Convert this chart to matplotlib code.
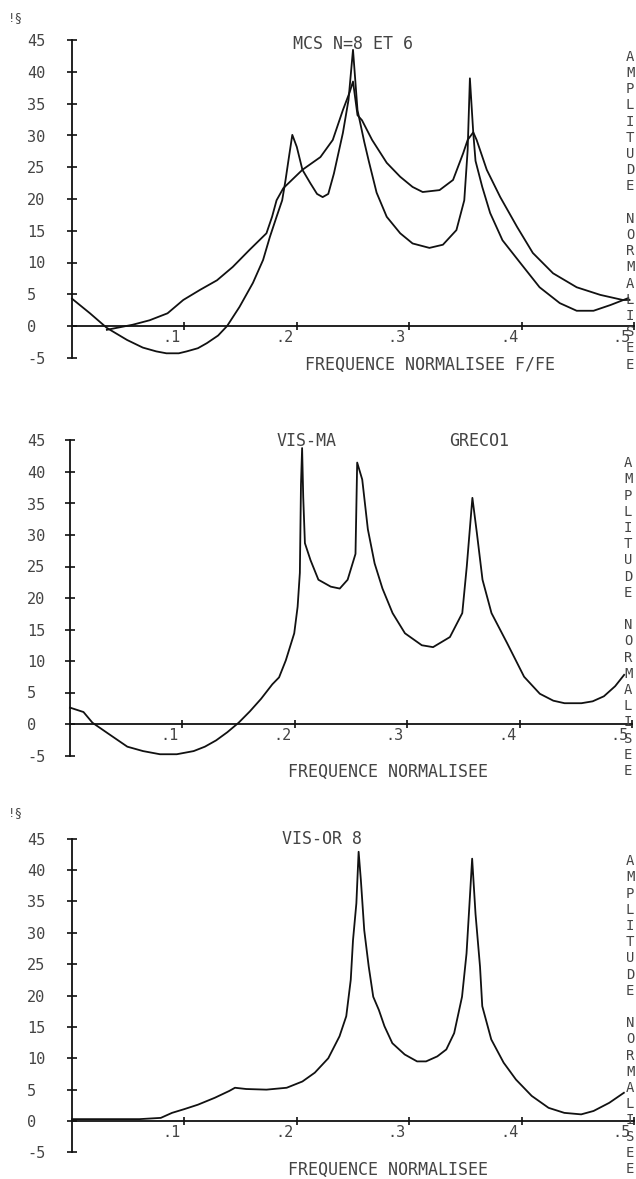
import matplotlib.pyplot as plt

plt.rcParams['font.family'] = ['DejaVu Sans Mono', 'DejaVu Sans']

# panel 1 : MCS N=8 ET 6 (two spectra)
mcs_a_freq = [0.0, 0.016, 0.031, 0.049, 0.063, 0.075, 0.084, 0.095, 0.102, 0.112,
              0.12, 0.13, 0.138, 0.149, 0.161, 0.17, 0.176, 0.182, 0.187, 0.19,
              0.193, 0.196, 0.2, 0.205, 0.212, 0.218, 0.223, 0.228, 0.233, 0.241,
              0.246, 0.25, 0.254, 0.26, 0.264, 0.271, 0.28, 0.292, 0.303, 0.318,
              0.33, 0.342, 0.349, 0.352, 0.354, 0.357, 0.359, 0.365, 0.372, 0.383,
              0.399, 0.416, 0.434, 0.449, 0.464, 0.479, 0.495]
mcs_a_amp = [4.3, 2.0, -0.3, -2.2, -3.4, -4.0, -4.3, -4.3, -4.0, -3.5,
             -2.7, -1.5, 0.0, 3.0, 6.8, 10.4, 14.0, 17.2, 19.8, 23.0,
             26.6, 30.1, 28.2, 24.6, 22.5, 20.8, 20.3, 20.8, 24.0, 30.4,
             35.6, 43.5, 34.0, 29.0, 26.0, 21.0, 17.2, 14.6, 13.0, 12.3,
             12.8, 15.1, 19.8, 27.7, 39.0, 30.4, 26.0, 21.9, 17.8, 13.5,
             9.9, 6.1, 3.6, 2.4, 2.4, 3.3, 4.4]

mcs_b_freq = [0.031, 0.054, 0.069, 0.085, 0.099, 0.114, 0.129, 0.143, 0.158, 0.173,
              0.178, 0.182, 0.188, 0.205, 0.221, 0.232, 0.241, 0.247, 0.25, 0.254,
              0.258, 0.267, 0.28, 0.292, 0.303, 0.312, 0.327, 0.339, 0.348, 0.352,
              0.357, 0.36, 0.369, 0.381, 0.396, 0.41, 0.428, 0.449, 0.47, 0.49, 0.496]
mcs_b_amp = [-0.6, 0.2, 0.9, 2.0, 4.1, 5.7, 7.2, 9.3, 12.0, 14.6,
             17.2, 19.8, 21.7, 24.6, 26.6, 29.3, 34.0, 36.8, 38.5, 33.2,
             32.4, 29.3, 25.7, 23.5, 21.9, 21.1, 21.4, 23.0, 27.2, 29.3,
             30.5, 29.3, 24.6, 20.3, 15.6, 11.5, 8.3, 6.1, 4.9, 4.1, 4.1]

# panel 2 : VIS-MA GRECO1
vis_ma_freq = [0.0, 0.012, 0.02, 0.033, 0.051, 0.065, 0.08, 0.095, 0.11, 0.12,
               0.13, 0.14, 0.15, 0.16, 0.17, 0.18, 0.186, 0.192, 0.1995, 0.2025,
               0.2045, 0.2055, 0.2065, 0.2075, 0.209, 0.214, 0.221, 0.232, 0.24, 0.247,
               0.254, 0.2555, 0.26, 0.265, 0.271, 0.278, 0.287, 0.298, 0.313, 0.323,
               0.338, 0.349, 0.353, 0.358, 0.362, 0.367, 0.375, 0.389, 0.404, 0.418,
               0.43, 0.44, 0.455, 0.465, 0.475, 0.485, 0.493]
vis_ma_amp = [2.6, 1.9, 0.2, -1.4, -3.6, -4.3, -4.8, -4.8, -4.3, -3.6,
              -2.6, -1.3, 0.2, 2.0, 4.0, 6.3, 7.4, 10.1, 14.4, 18.6,
              24.0, 38.0, 43.8, 36.0, 28.7, 26.0, 22.9, 21.8, 21.5, 22.9,
              27.0, 41.5, 38.8, 30.9, 25.5, 21.5, 17.6, 14.4, 12.5, 12.2,
              13.8, 17.6, 25.0, 35.9, 30.3, 22.9, 17.6, 12.8, 7.5, 4.8,
              3.7, 3.3, 3.3, 3.6, 4.4, 6.0, 7.8]

# panel 3 : VIS-OR 8
vis_or_freq = [0.0, 0.035, 0.06, 0.079, 0.089, 0.1, 0.112, 0.127, 0.14, 0.145,
               0.155, 0.173, 0.191, 0.205, 0.216, 0.228, 0.238, 0.244, 0.248, 0.25,
               0.253, 0.255, 0.257, 0.26, 0.264, 0.268, 0.273, 0.278, 0.285, 0.296,
               0.307, 0.315, 0.325, 0.333, 0.34, 0.347, 0.351, 0.354, 0.356, 0.359,
               0.363, 0.365, 0.373, 0.384, 0.395, 0.409, 0.424, 0.438, 0.453, 0.464,
               0.478, 0.491]
vis_or_amp = [0.3, 0.3, 0.3, 0.5, 1.3, 1.9, 2.6, 3.7, 4.8, 5.3,
              5.1, 5.0, 5.3, 6.3, 7.7, 10.0, 13.5, 16.7, 22.5, 28.8,
              34.7, 42.9, 38.4, 30.4, 24.6, 19.8, 17.7, 15.1, 12.4, 10.6,
              9.5, 9.5, 10.3, 11.4, 14.0, 19.8, 26.7, 35.7, 41.8, 33.0,
              24.6, 18.3, 13.0, 9.3, 6.6, 4.0, 2.1, 1.3, 1.06, 1.6,
              2.9, 4.5]

y_ticks = [-5, 0, 5, 10, 15, 20, 25, 30, 35, 40, 45]
y_tick_labels = ['-5', '0', '5', '10', '15', '20', '25', '30', '35', '40', '45']
x_ticks = [0.1, 0.2, 0.3, 0.4, 0.5]
x_tick_labels = ['.1', '.2', '.3', '.4', '.5']
side_label = 'AMPLITUDE NORMALISEE'

ink = '#111111'
text_ink = '#444444'

fig = plt.figure(figsize=(6.36, 11.79), dpi=100)


def make_panel(rect, axis_px, xlabel, xlabel_xy, titles, side_top):
    ax = fig.add_axes(rect)
    ax.set_xlim(0, 0.5)
    ax.set_ylim(-5, 45)
    ax.patch.set_visible(False)
    for side in ['top', 'right']:
        ax.spines[side].set_visible(False)
    ax.spines['left'].set_bounds(-5, 45)
    ax.spines['bottom'].set_position(('data', 0))
    ax.spines['bottom'].set_bounds(0, 0.5)
    for side in ['left', 'bottom']:
        ax.spines[side].set_linewidth(1.3)
        ax.spines[side].set_color(ink)

    # y ticks cross the axis, labels start well to the left
    ax.set_yticks(y_ticks, y_tick_labels)
    ax.tick_params(axis='y', direction='inout', length=7, width=1.2, color=ink,
                   pad=(axis_px - 27) * 0.72 - 3.5, labelsize=11, labelcolor=text_ink)
    for lab in ax.get_yticklabels():
        lab.set_horizontalalignment('left')

    ax.set_xticks(x_ticks, [])
    ax.tick_params(axis='x', direction='inout', length=6, width=1.2, color=ink)
    for xt, lbl in zip(x_ticks, x_tick_labels):
        ax.text(xt - 0.003, -0.6, lbl, ha='right', va='top', fontsize=11,
                color=text_ink)

    for tx, ty, t in titles:
        ax.text(tx, ty, t, ha='center', va='center', fontsize=12, color=text_ink)

    ax.text(xlabel_xy[0], xlabel_xy[1], xlabel, ha='center', va='center',
            fontsize=12, color=text_ink)

    # letters stacked one under the other at the right edge
    ax.text(0.4965, side_top, '\n'.join(side_label), ha='center', va='top',
            fontsize=10, linespacing=1.2, color=text_ink)
    return ax


ax1 = make_panel([72 / 636, 1 - 357.75 / 1179, 562 / 636, 317.5 / 1179], 72,
                 'FREQUENCE NORMALISEE F/FE', (0.3185, -6.2),
                 [(0.25, 44.4, 'MCS N=8 ET 6')], 43.5)
ax1.plot(mcs_a_freq, mcs_a_amp, color=ink, lw=1.3, clip_on=False)
ax1.plot(mcs_b_freq, mcs_b_amp, color=ink, lw=1.3, clip_on=False)

ax2 = make_panel([70 / 636, 1 - 755.5 / 1179, 562 / 636, 315 / 1179], 70,
                 'FREQUENCE NORMALISEE', (0.283, -7.6),
                 [(0.21, 45, 'VIS-MA'), (0.364, 45, 'GRECO1')], 42.5)
ax2.plot(vis_ma_freq, vis_ma_amp, color=ink, lw=1.3, clip_on=False)

ax3 = make_panel([72 / 636, 1 - 1152.4 / 1179, 562 / 636, 313.8 / 1179], 72,
                 'FREQUENCE NORMALISEE', (0.281, -7.8),
                 [(0.2225, 45, 'VIS-OR 8')], 42.5)
ax3.plot(vis_or_freq, vis_or_amp, color=ink, lw=1.3, clip_on=False)

fig.text(0.012, 1 - 18 / 1179, '!§', fontsize=9, color=text_ink, va='center')
fig.text(0.012, 1 - 813 / 1179, '!§', fontsize=9, color=text_ink, va='center')

fig.savefig('out.png', dpi=100, facecolor='white')
